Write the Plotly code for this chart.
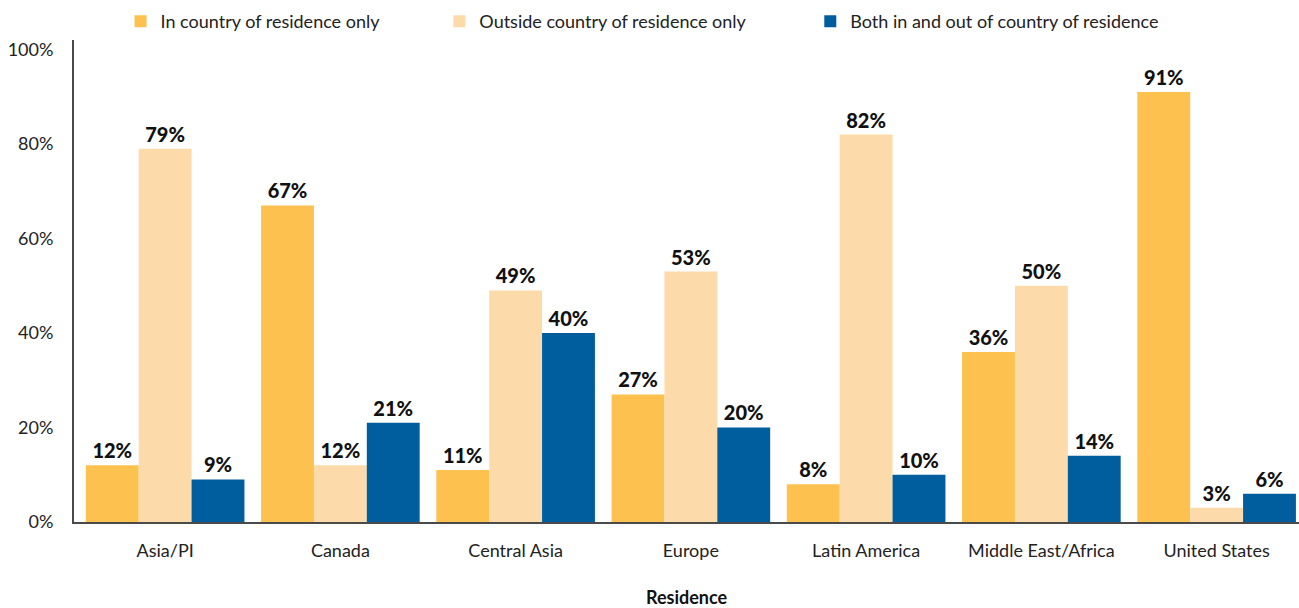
import plotly.graph_objects as go

regions = ["Asia/PI", "Canada", "Central Asia", "Europe", "Latin America",
           "Middle East/Africa", "United States"]
in_country = [12, 67, 11, 27, 8, 36, 91]
outside_country = [79, 12, 49, 53, 82, 50, 3]
both = [9, 21, 40, 20, 10, 14, 6]

series_names = ["In country of residence only",
                "Outside country of residence only",
                "Both in and out of country of residence"]
series_values = [in_country, outside_country, both]
series_colors = ["#FDC14F", "#FDDAA9", "#015E9E"]
# trailing non-breaking spaces give each legend entry its width
legend_pad = [12, 13, 0]

y_ticks = [0, 20, 40, 60, 80, 100]
y_tick_labels = ["0%", "20%", "40%", "60%", "80%", "100%"]

font_family = "Lato, 'Noto Sans', sans-serif"

fig = go.Figure()
for name, vals, color, pad in zip(series_names, series_values, series_colors, legend_pad):
    fig.add_trace(go.Bar(
        x=list(range(len(regions))),
        y=vals,
        name=name + "\u00a0" * pad,
        marker=dict(color=color, line=dict(width=0)),
        text=[f"{v}%" for v in vals],
        textposition="outside",
        textfont=dict(family=font_family, size=20, color="#111111", weight=900),
        cliponaxis=False,
    ))

fig.update_layout(
    width=1299, height=608,
    barmode="group",
    bargap=0.095,
    bargroupgap=0,
    plot_bgcolor="white",
    paper_bgcolor="white",
    margin=dict(l=74, r=0, t=40, b=86),
    font=dict(family=font_family, color="#222222", size=18),
    legend=dict(
        orientation="h",
        x=0.038, xanchor="left",
        y=1.0, yanchor="bottom",
        font=dict(size=18, color="#222222"),
        itemsizing="constant",
        traceorder="normal",
        bgcolor="rgba(0,0,0,0)",
    ),
    xaxis=dict(
        range=[-0.52, 6.47],
        tickmode="array",
        tickvals=list(range(len(regions))),
        ticktext=regions,
        showline=True, linecolor="#4a4a4a", linewidth=2,
        ticks="", showgrid=False, zeroline=False,
        ticklabelstandoff=11,
        tickfont=dict(size=18, color="#222222"),
        title=dict(text="<b>Residence</b>", font=dict(size=18, color="#111111"), standoff=34),
    ),
    yaxis=dict(
        range=[0, 102],
        tickmode="array",
        tickvals=y_ticks,
        ticktext=y_tick_labels,
        showline=True, linecolor="#4a4a4a", linewidth=2,
        ticks="", showgrid=False, zeroline=False,
        ticklabelstandoff=15,
        tickfont=dict(size=18, color="#222222"),
    ),
)

fig.write_html("out.html")
